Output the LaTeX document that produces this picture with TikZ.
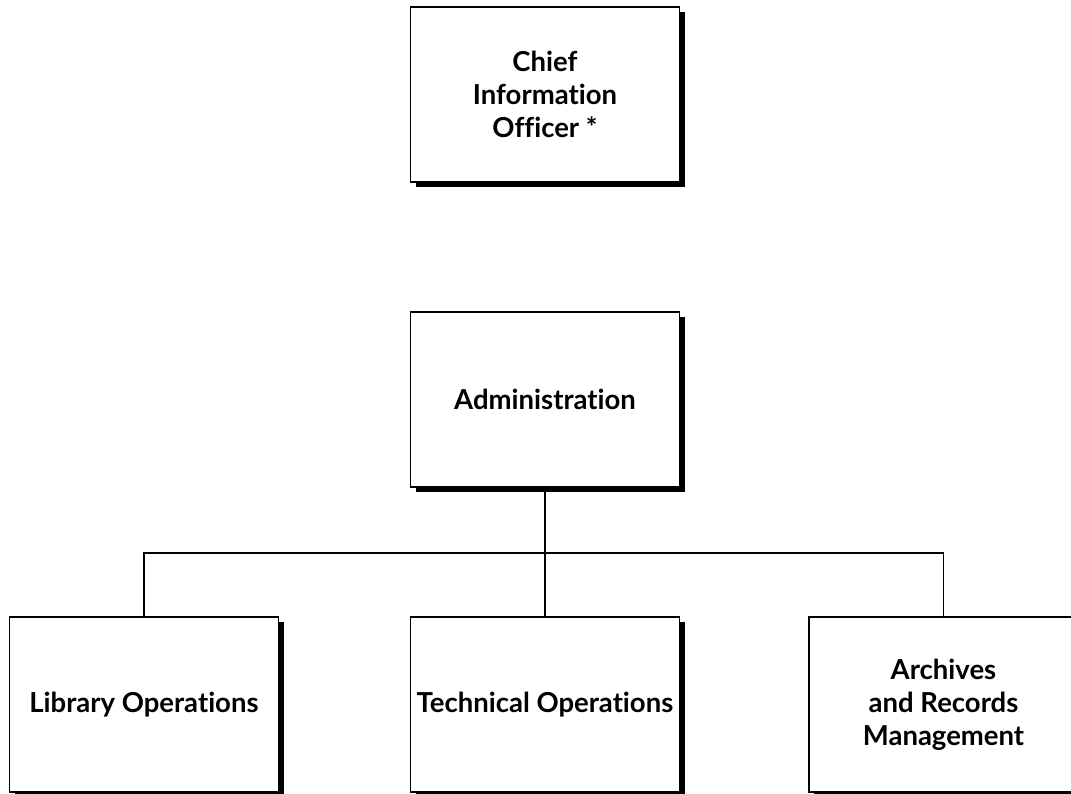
\documentclass[tikz,border=0pt]{standalone}
\usepackage{fontspec}
\setmainfont{Lato}[Ligatures=NoCommon]
\usetikzlibrary{shadows}
\begin{document}
\begin{tikzpicture}[x=1pt,y=-1pt,
  orgbox/.style={draw=black, line width=1.6pt, fill=white, minimum width=269pt, minimum height=175pt,
    inner sep=0pt, align=center, font=\bfseries\fontsize{27.5}{33}\selectfont,
    general shadow={fill=black, shadow xshift=5pt, shadow yshift=-5pt}},
  conn/.style={line width=1.3pt}]
\useasboundingbox (0,0) rectangle (1071,793);
\node[orgbox] (cio) at (545,94.5) {Chief\\Information\\Officer *};
\node[orgbox] (adm) at (545,399.5) {Administration};
\node[orgbox] (lib) at (144,704.5) {Library Operations};
\node[orgbox] (tech) at (545,704.5) {Technical Operations};
\node[orgbox] (arch) at (943.5,704.5) {Archives\\and Records\\Management};
\coordinate (bus) at (545,553);
\draw[conn] (adm.south) -- (bus);
\draw[conn] (lib.north) |- (bus) -| (arch.north);
\draw[conn] (bus) -- (tech.north);
\end{tikzpicture}
\end{document}
